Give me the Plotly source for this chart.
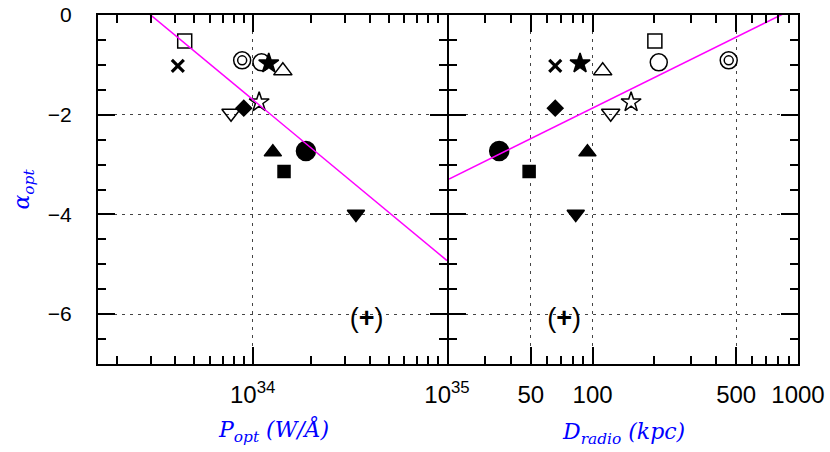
import numpy as np
import plotly.graph_objects as go

# ---- data ----
objects = ["sq_open", "cross", "circ_double", "circ_open", "star_fill", "tri_up_open",
           "star_open", "diamond_fill", "tri_dn_open", "tri_up_fill", "circ_fill",
           "sq_fill", "tri_dn_fill", "plus"]
alpha_opt = [-0.52, -1.02, -0.91, -0.95, -0.97, -1.12, -1.75, -1.87, -1.97, -2.75,
             -2.73, -3.14, -3.99, -6.13]
p_opt = [4.47e33, 4.12e33, 8.83e33, 1.11e34, 1.21e34, 1.43e34, 1.08e34, 9.0e33,
         7.74e33, 1.27e34, 1.88e34, 1.45e34, 3.40e34, 3.86e34]
d_radio = [201, 65.8, 460, 210, 86.9, 112, 154, 65.8, 122.5, 94.4, 35.1, 49.1,
           82.8, 72.6]

# linear fits: alpha = slope * (log10(x) - zero_point)
fit_p_slope, fit_p_zero = -3.23, 33.475
fit_d_slope, fit_d_zero = 2.036, 2.917

p_major = [1e34, 1e35]
p_major_text = ["10<sup>34</sup>", "10<sup>35</sup>"]
d_major = [50, 100, 500, 1000]
d_major_text = ["50", "100", "500", "1000"]
y_major = [0, -2, -4, -6]

# ---- styles ----
styles = {
    "sq_open": [("square-open", 14, 1.5)],
    "cross": [("x-thin-open", 12, 3.2)],
    "circ_double": [("circle-open", 17, 1.5), ("circle-open", 9, 1.5)],
    "circ_open": [("circle-open", 17, 1.5)],
    "star_fill": [("star", 15, 1.5)],
    "tri_up_open": [("triangle-up-open", 16, 1.5)],
    "star_open": [("star-open", 15, 1.5)],
    "diamond_fill": [("diamond", 12, 1.5)],
    "tri_dn_open": [("triangle-down-open", 16, 1.5)],
    "tri_up_fill": [("triangle-up", 15, 1.5)],
    "circ_fill": [("circle", 19, 1.5)],
    "sq_fill": [("square", 12, 1.5)],
    "tri_dn_fill": [("triangle-down", 15, 1.5)],
}

P_RANGE = [np.log10(1.6e33), 35]
D_RANGE = [np.log10(20), 3]

fig = go.Figure()

for xs, xa, ya in [(p_opt, "x", "y"), (d_radio, "x2", "y2")]:
    for name, xv, yv in zip(objects, xs, alpha_opt):
        if name == "plus":
            fig.add_trace(go.Scatter(
                x=[xv], y=[yv], mode="text", text=["(<b>+</b>)"],
                textfont=dict(family="Liberation Sans", size=27, color="black"),
                xaxis=xa, yaxis=ya, showlegend=False, hoverinfo="skip"))
            continue
        for sym, size, lw in styles[name]:
            fig.add_trace(go.Scatter(
                x=[xv], y=[yv], mode="markers",
                marker=dict(symbol=sym, size=size, color="black",
                            line=dict(color="black", width=lw)),
                xaxis=xa, yaxis=ya, showlegend=False, hoverinfo="skip"))

# fit lines
lp = np.linspace(P_RANGE[0], P_RANGE[1], 50)
fig.add_trace(go.Scatter(x=10 ** lp, y=fit_p_slope * (lp - fit_p_zero), mode="lines",
                         line=dict(color="#ff00ff", width=1.5), xaxis="x", yaxis="y",
                         showlegend=False, hoverinfo="skip"))
ld = np.linspace(D_RANGE[0], D_RANGE[1], 50)
fig.add_trace(go.Scatter(x=10 ** ld, y=fit_d_slope * (ld - fit_d_zero), mode="lines",
                         line=dict(color="#ff00ff", width=1.5), xaxis="x2", yaxis="y2",
                         showlegend=False, hoverinfo="skip"))


def minor_log(lo, hi):
    vals = []
    for e in range(int(np.floor(lo)) - 1, int(np.ceil(hi)) + 1):
        for m in range(2, 10):
            v = m * 10.0 ** e
            if 10 ** lo < v < 10 ** hi:
                vals.append(v)
    return vals


grid = dict(showgrid=True, gridcolor="#444", gridwidth=1, griddash="3px,5px")
common_x = dict(type="log", showline=True, linecolor="black", linewidth=2,
                mirror="ticks", ticks="inside", ticklen=17, tickwidth=2,
                tickcolor="black", zeroline=False, tickmode="array", automargin=False,
                tickfont=dict(family="Liberation Sans", size=24, color="black"),
                ticklabelstandoff=8, **grid)

p_minor = [v for v in minor_log(*P_RANGE) if v not in p_major]
d_minor = [v for v in minor_log(*D_RANGE) if round(v) not in d_major]

W, H = 830, 452
ML, MR, MT, MB = 98, 32, 15, 88
pw = W - ML - MR
half = 1.0 / pw  # one pixel in paper units

fig.update_layout(
    width=W, height=H,
    margin=dict(l=ML, r=MR, t=MT, b=MB),
    plot_bgcolor="white", paper_bgcolor="white",
    xaxis=dict(domain=[0, 0.5 - half], range=P_RANGE, anchor="y",
               tickvals=p_major, ticktext=p_major_text,
               minor=dict(tickmode="array", tickvals=p_minor, ticks="inside",
                          ticklen=8, tickwidth=2, tickcolor="black", showgrid=False),
               **common_x),
    xaxis2=dict(domain=[0.5 + half, 1], range=D_RANGE, anchor="y2",
                tickvals=d_major, ticktext=d_major_text,
                minor=dict(tickmode="array", tickvals=d_minor, ticks="inside",
                           ticklen=8, tickwidth=2, tickcolor="black", showgrid=False),
                **common_x),
)

title_font = dict(family="DejaVu Serif", size=22, color="blue")

common_y = dict(range=[-7, 0], showline=True, linecolor="black", linewidth=2,
                mirror="ticks", ticks="inside", ticklen=17, tickwidth=2,
                tickcolor="black", zeroline=False, tickmode="array", automargin=False,
                tickvals=y_major,
                minor=dict(tickmode="array", tickvals=list(np.arange(-6.5, 0, 0.5)),
                           ticks="inside", ticklen=8, tickwidth=2, tickcolor="black",
                           showgrid=False),
                tickfont=dict(family="Liberation Sans", size=21, color="black"),
                ticklabelstandoff=20, **grid)

fig.update_layout(
    yaxis=dict(domain=[0, 1], anchor="x",
               title=dict(text="<i>α<sub>opt</sub></i>", font=title_font, standoff=12),
               **common_y),
    yaxis2=dict(domain=[0, 1], anchor="x2", matches="y", showticklabels=False,
                **common_y),
)

fig.add_annotation(text="<i>P<sub>opt</sub> (W/Å)</i>", xref="paper", yref="paper",
                   x=0.25, y=-0.19, xanchor="center", yanchor="middle",
                   showarrow=False, font=title_font)
fig.add_annotation(text="<i>D<sub>radio</sub> (kpc)</i>", xref="paper", yref="paper",
                   x=0.75, y=-0.2, xanchor="center", yanchor="middle",
                   showarrow=False, font=title_font)

fig.write_html("out.html", config={"displayModeBar": False},
               post_script="document.body.style.margin='0';"
                           "document.body.style.overflow='hidden';")
